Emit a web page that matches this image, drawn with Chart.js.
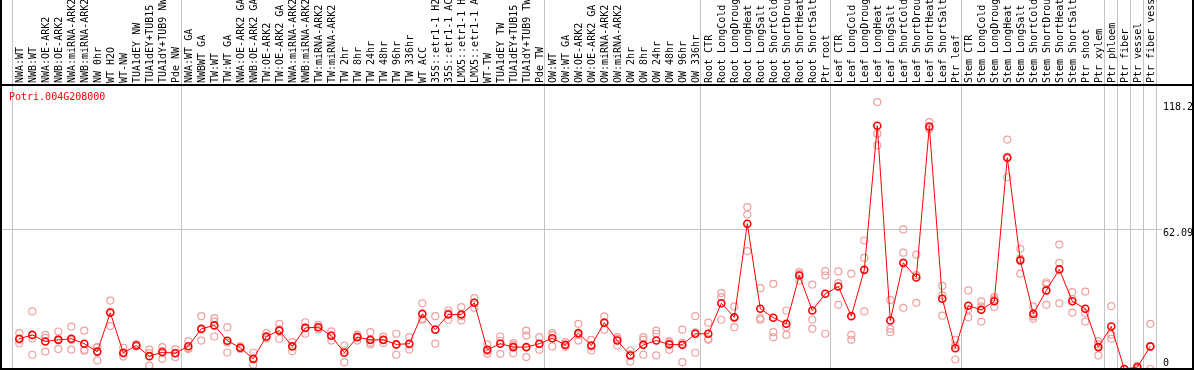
<!DOCTYPE html>
<html>
<head>
<meta charset="utf-8">
<script src="https://cdn.jsdelivr.net/npm/chart.js@4/dist/chart.umd.min.js"></script>
<style>
body { margin: 0; background: #fff; }
#wrap { width: 1194px; height: 370px; }
</style>
</head>
<body>
<div id="wrap"><canvas id="exprChart"></canvas></div>
<script>
// sample names, left to right
const categories = [
  'NWA:WT', 'NWB:WT', 'NWA:OE-ARK2', 'NWB:OE-ARK2', 'NWA:miRNA-ARK2', 'NWB:miRNA-ARK2',
  'NW 0hr', 'WT H2O', 'WT-NW', 'TUA1dEY NW', 'TUA1dEY+TUB15 NW', 'TUA1dY+TUB9 NW', 'Pde NW',
  'NWA:WT GA', 'NWBWT GA', 'TW:WT', 'TW:WT GA', 'NWA:OE-ARK2 GA', 'NWB:OE-ARK2 GA',
  'TW:OE-ARK2', 'TW:OE-ARK2 GA', 'NWA:miRNA-ARK2 GA', 'NWB:miRNA-ARK2 GA', 'TW:miRNA-ARK2',
  'TW:miRNA-ARK2 GA', 'TW 2hr', 'TW 8hr', 'TW 24hr', 'TW 48hr', 'TW 96hr', 'TW 336hr',
  'WT ACC', '35S::etr1-1 H2O', '35S::etr1-1 ACC', 'LMX5::etr1-1 H2O', 'LMX5::etr1-1 ACC',
  'WT-TW', 'TUA1dEY TW', 'TUA1dEY+TUB15 TW', 'TUA1dY+TUB9 TW', 'Pde TW',
  'OW:WT', 'OW:WT GA', 'OW:OE-ARK2', 'OW:OE-ARK2 GA', 'OW:miRNA-ARK2', 'OW:miRNA-ARK2 GA',
  'OW 2hr', 'OW 8hr', 'OW 24hr', 'OW 48hr', 'OW 96hr', 'OW 336hr',
  'Root CTR', 'Root LongCold', 'Root LongDrought', 'Root LongHeat', 'Root LongSalt',
  'Root ShortCold', 'Root ShortDrought', 'Root ShortHeat', 'Root ShortSalt', 'Ptr root',
  'Leaf CTR', 'Leaf LongCold', 'Leaf LongDrought', 'Leaf LongHeat', 'Leaf LongSalt',
  'Leaf ShortCold', 'Leaf ShortDrought', 'Leaf ShortHeat', 'Leaf ShortSalt', 'Ptr leaf',
  'Stem CTR', 'Stem LongCold', 'Stem LongDrought', 'Stem LongHeat', 'Stem LongSalt',
  'Stem ShortCold', 'Stem ShortDrought', 'Stem ShortHeat', 'Stem ShortSalt', 'Ptr shoot',
  'Ptr xylem', 'Ptr phloem', 'Ptr fiber', 'Ptr vessel', 'Ptr fiber vessel'
];

// mean expression per sample
const meanValues = [
  13.4, 15.1, 12.2, 12.9, 13.4, 11.2, 7.7, 24.9, 7.2, 10.4, 5.7, 7.4, 7.0,
  10.1, 17.8, 19.3, 12.5, 9.4, 4.5, 14.4, 17.0, 10.0, 18.2, 18.5, 14.7, 7.2,
  14.1, 12.9, 12.9, 10.9, 11.2, 24.4, 17.4, 24.1, 24.1, 29.3, 8.5, 11.2, 9.7, 9.7, 11.2,
  13.6, 10.7, 15.9, 10.4, 20.5, 12.6, 6.0, 10.7, 12.6, 10.9, 10.7, 15.6,
  15.6, 29.1, 22.9, 64.3, 26.7, 22.7, 20.0, 41.4, 25.9, 33.3,
  36.5, 23.4, 43.9, 107.7, 21.5, 47.0, 40.5, 107.4, 31.1, 9.2,
  28.0, 26.2, 30.0, 93.5, 48.1, 24.4, 34.8, 44.1, 30.0, 26.7,
  9.7, 18.8, 0, 0.8, 10.0
];

// replicate values
const rep1 = [
  15.9, 25.5, 15.1, 16.6, 18.8, 17.0, 9.7, 30.3, 9.4, 11.0, 8.6, 9.7, 8.8,
  12.3, 23.4, 22.5, 18.5, 10.0, 7.2, 15.9, 20.0, 11.9, 20.7, 19.5, 16.7, 10.4,
  15.2, 16.3, 14.3, 15.6, 14.1, 29.1, 23.4, 25.9, 27.4, 31.4, 10.9, 14.4, 11.5, 17.0, 14.1,
  15.9, 11.9, 20.0, 12.9, 23.3, 14.1, 8.2, 14.1, 17.0, 12.2, 17.4, 23.4,
  20.5, 33.6, 27.7, 71.7, 35.8, 37.7, 25.9, 42.9, 37.4, 43.3,
  43.2, 42.2, 56.9, 118.2, 30.6, 61.8, 50.6, 109.3, 36.8, 12.9,
  34.8, 29.9, 31.8, 101.6, 53.2, 27.7, 38.4, 55.1, 34.0, 34.3,
  12.2, 27.8, 0, 1.5, 20.0
];
const rep2 = [
  13.0, 13.5, 13.8, 13.2, 12.8, 8.5, 9.6, 25.4, 6.7, 10.2, 7.0, 8.0, 7.0,
  9.2, 17.4, 21.0, 11.7, 9.4, 4.4, 13.8, 17.6, 10.2, 18.3, 18.5, 14.8, 8.2,
  14.5, 11.6, 12.9, 10.8, 10.9, 22.3, 17.6, 24.6, 23.4, 29.4, 7.9, 12.5, 10.6, 14.8, 11.0,
  15.0, 10.5, 15.1, 10.1, 20.8, 13.3, 6.5, 12.9, 15.6, 11.9, 11.7, 16.2,
  13.4, 31.8, 22.5, 68.4, 22.5, 16.3, 18.5, 42.0, 21.8, 41.4,
  38.0, 15.1, 49.2, 104.2, 17.8, 51.5, 41.6, 106.8, 32.6, 10.5,
  26.3, 27.7, 30.8, 94.0, 48.9, 23.3, 37.6, 47.0, 31.0, 24.8,
  10.9, 15.2, 0, 0.8, 10.0
];
const rep3 = [
  11.4, 6.3, 7.7, 8.9, 8.6, 8.1, 3.8, 19.0, 5.5, 10.0, 1.5, 4.5, 5.2,
  8.8, 12.6, 14.4, 7.3, 8.8, 1.9, 13.5, 13.4, 7.9, 15.6, 17.5, 12.6, 3.0,
  12.6, 10.9, 11.5, 6.3, 8.6, 21.8, 11.2, 21.8, 21.5, 27.1, 6.7, 6.7, 7.0, 5.3, 8.5,
  10.0, 9.8, 12.6, 8.2, 17.4, 10.4, 3.3, 6.3, 6.0, 8.5, 3.0, 7.2,
  12.9, 21.8, 18.5, 52.2, 21.8, 14.1, 15.1, 39.2, 17.8, 15.6,
  28.4, 12.9, 25.5, 99.0, 16.3, 27.1, 29.3, 106.1, 23.6, 4.2,
  22.9, 21.0, 27.4, 84.9, 42.2, 22.2, 28.4, 29.1, 25.0, 21.0,
  6.0, 13.4, 0, 0, 0
];

const yTicks = [0, 62.09, 118.2];
// first sample index of each group (last entry closes the final group)
const groupStarts = [0, 13, 41, 53, 63, 73, 84, 85, 86, 87, 88];
const geneId = 'Potri.004G208000';

const monoFont = '"DejaVu Sans Mono", "Liberation Mono", monospace';

const toPoints = arr => arr.map((v, i) => ({ x: i, y: v }));
const repPoints = [].concat(toPoints(rep1), toPoints(rep2), toPoints(rep3));

const decorations = {
  id: 'decorations',
  beforeDatasetsDraw(chart) {
    const { ctx, chartArea: a, scales: { x, y } } = chart;
    ctx.save();
    ctx.strokeStyle = '#c4c4c4';
    ctx.lineWidth = 1;
    const gy = Math.round(y.getPixelForValue(yTicks[1])) + 0.5;
    ctx.beginPath();
    ctx.moveTo(a.left, gy);
    ctx.lineTo(a.right - 31, gy);
    ctx.stroke();
    groupStarts.forEach(g => {
      const gx = Math.round(x.getPixelForValue(g - 0.6)) + 0.5;
      ctx.beginPath();
      ctx.moveTo(gx, 0);
      ctx.lineTo(gx, a.bottom);
      ctx.stroke();
    });
    ctx.restore();
  },
  afterDraw(chart) {
    const { ctx, chartArea: a, scales: { y } } = chart;
    ctx.save();
    // frame
    ctx.strokeStyle = '#000';
    ctx.lineWidth = 2;
    ctx.beginPath();
    ctx.moveTo(1, 0); ctx.lineTo(1, a.bottom + 1);
    ctx.moveTo(0, a.bottom); ctx.lineTo(1194, a.bottom);
    ctx.moveTo(1193, 0); ctx.lineTo(1193, a.bottom + 1);
    ctx.moveTo(0, a.top - 1); ctx.lineTo(1194, a.top - 1);
    ctx.stroke();
    // gene id
    ctx.font = '10px ' + monoFont;
    ctx.fillStyle = '#ff0000';
    ctx.textBaseline = 'middle';
    ctx.textAlign = 'left';
    ctx.fillText(geneId, 9, 97);
    // value labels
    ctx.fillStyle = '#000';
    yTicks.forEach(v => {
      const py = y.getPixelForValue(v);
      ctx.fillText(String(v), a.right - 30, v === 0 ? py - 6 : py + 5);
    });
    ctx.restore();
  }
};

const ctx = document.getElementById('exprChart').getContext('2d');
const exprChart = new Chart(ctx, {
  data: {
    datasets: [{
      type: 'line',
      label: 'mean',
      data: toPoints(meanValues),
      borderColor: '#ff0000',
      borderWidth: 1,
      pointRadius: 3.5,
      pointBorderWidth: 1.6,
      pointBorderColor: '#ff0000',
      pointBackgroundColor: 'rgba(255,255,255,0)',
      order: 0,
      clip: 0
    }, {
      type: 'scatter',
      label: 'replicates',
      data: repPoints,
      pointRadius: 3.5,
      pointBorderWidth: 1.2,
      pointBorderColor: '#eea0a0',
      pointBackgroundColor: 'rgba(255,255,255,0)',
      order: 1,
      clip: 0
    }]
  },
  options: {
    responsive: true,
    maintainAspectRatio: false,
    animation: false,
    layout: { autoPadding: false, padding: { left: 2, right: 1, top: 0, bottom: 1 } },
    plugins: { legend: { display: false }, tooltip: { enabled: false } },
    scales: {
      x: {
        type: 'linear',
        position: 'top',
        min: (2 - 19.3) / 13,
        max: (1193 - 19.3) / 13,
        afterBuildTicks: s => { s.ticks = categories.map((c, i) => ({ value: i })); },
        afterFit: s => { s.height = 86; s.paddingLeft = 0; s.paddingRight = 0; },
        grid: { display: false, drawTicks: false },
        border: { display: false },
        ticks: {
          autoSkip: false,
          minRotation: 90,
          maxRotation: 90,
          padding: 3,
          labelOffset: 13,
          color: '#000',
          font: { family: monoFont, size: 10 },
          callback: v => categories[v]
        }
      },
      y: { display: false, min: 0, max: 125.3 }
    }
  },
  plugins: [decorations]
});
</script>
</body>
</html>
